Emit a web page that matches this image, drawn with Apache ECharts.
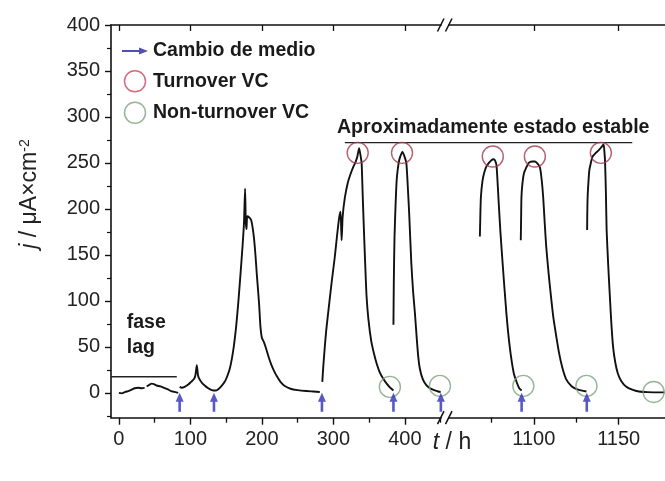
<!DOCTYPE html>
<html><head><meta charset="utf-8">
<script src="https://cdn.jsdelivr.net/npm/echarts@6/dist/echarts.min.js"></script>
<style>html,body{margin:0;padding:0;background:#fff}#c{width:665px;height:481px}</style>
</head><body><div id="c"></div>
<script>
// ---- data (t in h, j in µA·cm^-2) ----
const lagSeg1 = [[0,0],[4,-0.5],[9,1],[13,2],[18,3.5],[22,5],[27,5.5],[32,5],[36,5.5]];
const lagSeg2 = [[39,7],[43,9],[46,10],[49,9.5],[53,8],[58,7],[63,5.5],[68,4],[73,2],[78,1],[83,0]];
const growthSeg = [[85,6.5],[88,5.5],[92,6.5],[97,9],[101,12],[105,15],[107,19],[109,30],[110.5,20],[112,16],[116,11],[120,8],[125,5],[130,3],[135,2.5],[139,4],[144,8],[148,12],[151,17],[155,26],[158,37],[161,52],[164,72],[167,98],[170,128],[173,160],[175,185],[176.5,222],[177.5,186],[178.5,178],[179.5,192],[182,191],[185,188],[187,180],[189,168],[191,150],[193,128],[196,98],[198,72],[200,60],[203,55],[206,48],[209,40],[213,31],[217,24],[221,18],[226,12],[232,7.5],[240,4.5],[250,3],[262,2],[272,1.5],[281,1]];
const cycle1 = [[284.5,12],[286,30],[288,50],[290,68],[294,96],[298,123],[302,148],[305,170],[308,190],[310,197],[311.5,166],[313,192],[316,212],[320,228],[324,238],[328,246],[331,251],[333.5,257],[336,266],[338,258],[339.5,250],[341,215],[342.7,177],[344.5,140],[346.4,105],[349,80],[353,56],[357,42],[360.5,32],[365,22],[370,15],[374.5,10],[379,6],[384,2.5]];
const cycle2 = [[384,74],[384.5,120],[385.5,170],[387,205],[388.5,231],[390,243],[392,253],[394,258],[396.5,262],[399,258],[402,250],[404,225],[406,195],[409,141],[411.5,110],[414,87],[416.5,60],[418.6,40],[421,26],[425,15],[430,8.5],[435,5],[441,3],[446.6,1.5],[450,1]];
const cycle3 = [[1068.2,170],[1068.5,195],[1068.8,213],[1069.7,230],[1070.7,239],[1072,246],[1073.5,250],[1075,253],[1076.3,254],[1077.3,252],[1078,247],[1078.6,230],[1079.1,213],[1080.3,175],[1081.6,141],[1083.8,87],[1085.8,50],[1088.2,21],[1090,11],[1091.4,5],[1092.8,2.5]];
const cycle4 = [[1092.3,166],[1092.5,190],[1092.7,213],[1093.3,228],[1094.2,239],[1095.5,245],[1097,250],[1099,251.5],[1100.7,251.5],[1102.3,249],[1103.6,245],[1104.6,232],[1105.5,213],[1106.4,185],[1107.3,159],[1108.7,130],[1110.1,105],[1111.5,82],[1113,64],[1114.8,44],[1116.7,28],[1119,15],[1122.4,7],[1126,3.5],[1131,1.5]];
const cycle5 = [[1131.4,177],[1131.5,195],[1131.7,213],[1132.2,230],[1132.7,242],[1133.6,250],[1134.6,257],[1136.5,261],[1138.3,264],[1139.7,267],[1141.1,270],[1141.6,262],[1142,250],[1142.5,215],[1142.9,177],[1143.8,140],[1144.8,105],[1145.7,75],[1146.7,50],[1148,33],[1149.5,21],[1151.5,13],[1154.3,7],[1158,3.5],[1161.9,1.5],[1167,0.8],[1177,0.5]];

const mediumChangeLeft = [85, 133, 284, 384, 450.3];
const mediumChangeRight = [1092.8, 1131.2];
const turnoverLeft = [[334,261],[396,261]];
const turnoverRight = [[1075.8,257],[1100.6,257],[1139.5,261]];
const nonTurnoverLeft = [[379,6.5],[449,7.6]];
const nonTurnoverRight = [[1093.8,7.6],[1131,7.6],[1170.6,1]];

const lagLevel = 17.5, lagStart = -11, lagEnd = 81;
const steadyLevel = 272, steadyStart = 316, steadyEnd = 1158;

const xTicksLeft = [0,100,200,300,400];
const xMinorLeft = [50,150,250,350,450];
const xTicksRight = [1100,1150];
const xMinorRight = [1075,1125];
const yTicks = [0,50,100,150,200,250,300,350,400];
const yMinor = [-25,25,75,125,175,225,275,325,375];

// ---- layout / style ----
const FONT = 'Liberation Sans, Arial, sans-serif';
const INK = '#111';
const TURN = '#a03a4e';
const NONTURN = '#7ea27e';
const ARROW = '#2e2eb8';
const arrowUp = 'path://M4,0 L8,9 L5.3,9 L5.3,19 L2.7,19 L2.7,9 L0,9 Z';
const arrowRight = 'path://M0,3 L19,3 L19,0 L29,4 L19,8 L19,5 L0,5 Z';

const gTop = 25, gH = 392.7;
const L = {left:111, width:330, min:-11, max:450.5};
const R = {left:449, width:226, min:1050, max:1177.3};
const plain = v => String(v);

function xAxes(g, cfg, major, minor) {
  const line = {show:true, onZero:false, lineStyle:{color:INK, width:1.6}};
  return [
    {gridIndex:g, type:'value', min:cfg.min, max:cfg.max, position:'bottom',
     axisLine:line, splitLine:{show:false},
     axisTick:{show:true, customValues:major, length:7, lineStyle:{color:INK, width:1.4}},
     axisLabel:{customValues:major, formatter:plain, fontSize:20, color:'#222', fontFamily:FONT, margin:12}},
    {gridIndex:g, type:'value', min:cfg.min, max:cfg.max, position:'bottom',
     axisLine:{show:false, onZero:false}, splitLine:{show:false}, axisLabel:{show:false},
     axisTick:{show:true, customValues:minor, length:5, lineStyle:{color:INK, width:1.3}}},
    {gridIndex:g, type:'value', min:cfg.min, max:cfg.max, position:'top',
     axisLine:line, splitLine:{show:false}, axisLabel:{show:false},
     axisTick:{show:true, inside:true, customValues:major, length:6, lineStyle:{color:INK, width:1.3}}}
  ];
}

const xAxis = xAxes(0, L, xTicksLeft, xMinorLeft).concat(xAxes(1, R, xTicksRight, xMinorRight));
const yAxis = [
  {gridIndex:0, type:'value', min:-27, max:400, position:'left',
   axisLine:{show:true, onZero:false, lineStyle:{color:INK, width:1.6}}, splitLine:{show:false},
   axisTick:{show:true, customValues:yTicks, length:6, lineStyle:{color:INK, width:1.4}},
   axisLabel:{customValues:yTicks, formatter:plain, fontSize:20, color:'#222', fontFamily:FONT, margin:11}},
  {gridIndex:0, type:'value', min:-27, max:400, position:'left',
   axisLine:{show:false, onZero:false}, splitLine:{show:false}, axisLabel:{show:false},
   axisTick:{show:true, customValues:yMinor, length:4, lineStyle:{color:INK, width:1.2}}},
  {gridIndex:1, type:'value', min:-27, max:400, show:false, axisLine:{onZero:false}}
];

function curve(data, right) {
  return {type:'line', xAxisIndex: right ? 3 : 0, yAxisIndex: right ? 2 : 0, data:data,
    showSymbol:false, smooth:0.2, silent:true, z:3,
    lineStyle:{color:INK, width:1.9}};
}
function guide(data, right) {
  return {type:'line', xAxisIndex: right ? 3 : 0, yAxisIndex: right ? 2 : 0, data:data,
    showSymbol:false, silent:true, clip:false, z:2, lineStyle:{color:'#222', width:1.3}};
}
function arrows(ts, right) {
  return {type:'scatter', name:'Cambio de medio', xAxisIndex: right ? 3 : 0, yAxisIndex: right ? 2 : 0,
    data: ts.map(t => [t, 0]), symbol: arrowUp, symbolSize:[8,19], symbolOffset:[0,'50%'],
    itemStyle:{color:ARROW}, clip:false, z:6, silent:true};
}
function circles(name, data, color, right) {
  return {type:'scatter', name:name, xAxisIndex: right ? 3 : 0, yAxisIndex: right ? 2 : 0,
    data:data, symbol:'circle', symbolSize:21, clip:false, z:5, silent:true,
    itemStyle:{color:'rgba(0,0,0,0)', borderColor:color, borderWidth:1.4}};
}

const series = [
  curve(lagSeg1), curve(lagSeg2), curve(growthSeg), curve(cycle1), curve(cycle2),
  curve(cycle3, true), curve(cycle4, true), curve(cycle5, true),
  guide([[lagStart, lagLevel],[lagEnd, lagLevel]], false),
  arrows(mediumChangeLeft), arrows(mediumChangeRight, true),
  circles('Turnover VC', turnoverLeft, TURN), circles('Turnover VC', turnoverRight, TURN, true),
  circles('Non-turnover VC', nonTurnoverLeft, NONTURN), circles('Non-turnover VC', nonTurnoverRight, NONTURN, true)
];

const option = {
  animation:false,
  backgroundColor:'#fff',
  grid:[
    {left:L.left, top:gTop, width:L.width, height:gH},
    {left:R.left, top:gTop, width:R.width, height:gH}
  ],
  xAxis: xAxis, yAxis: yAxis, series: series,
  legend:{
    orient:'vertical', left:117, top:36, itemWidth:26, itemHeight:21, itemGap:9,
    selectedMode:false, symbolKeepAspect:true,
    textStyle:{fontSize:19.5, fontWeight:'bold', color:'#1a1a1a', fontFamily:FONT},
    data:[
      {name:'Cambio de medio', icon:arrowRight, itemStyle:{color:'#24249a'}},
      {name:'Turnover VC', icon:'circle', itemStyle:{color:'rgba(0,0,0,0)', borderColor:'#c8485c', borderWidth:1.5}},
      {name:'Non-turnover VC', icon:'circle', itemStyle:{color:'rgba(0,0,0,0)', borderColor:NONTURN, borderWidth:1.5}}
    ]
  }
};

const chart = echarts.init(document.getElementById('c'), null, {renderer:'canvas'});
chart.setOption(option);

// annotations positioned through the axes
const pL = (t, j) => chart.convertToPixel({xAxisIndex:0, yAxisIndex:0}, [t, j]);
const pR = (t, j) => chart.convertToPixel({xAxisIndex:3, yAxisIndex:2}, [t, j]);
const faseP = pL(11, 63);
const steadyP = pL(305, 288);
const s0 = pL(steadyStart, steadyLevel), s1 = pR(steadyEnd, steadyLevel);
const bottomY = gTop + gH, topY = gTop;
const breakX = (L.left + L.width + R.left) / 2;
function slashes(y) {
  return [
    {type:'line', shape:{x1:breakX-7.5, y1:y+6.5, x2:breakX-1, y2:y-6.5}, style:{stroke:INK, lineWidth:1.5}},
    {type:'line', shape:{x1:breakX+0.5, y1:y+6.5, x2:breakX+7, y2:y-6.5}, style:{stroke:INK, lineWidth:1.5}}
  ];
}
chart.setOption({
  graphic:[
    {type:'line', shape:{x1:s0[0], y1:s0[1], x2:s1[0], y2:s1[1]}, style:{stroke:'#222', lineWidth:1.3}},
    {type:'text', x:faseP[0], y:faseP[1], style:{text:'fase\nlag', fontSize:19.5, fontWeight:'bold', fontFamily:FONT, fill:'#1a1a1a', lineHeight:25, verticalAlign:'middle', align:'left'}},
    {type:'text', x:steadyP[0], y:steadyP[1], style:{text:'Aproximadamente estado estable', fontSize:19.6, fontWeight:'bold', fontFamily:FONT, fill:'#1a1a1a', verticalAlign:'middle', align:'left'}},
    {type:'text', x:30, y:194, rotation:Math.PI/2,
     style:{text:'{i|j} / μA×cm{s|-2}', fontSize:23, fontFamily:FONT, fill:'#222', align:'center', verticalAlign:'middle',
       rich:{i:{fontStyle:'italic', fontSize:23, fontFamily:FONT, fill:'#222'}, s:{fontSize:14, fontFamily:FONT, verticalAlign:'top', lineHeight:14, fill:'#222'}}}},
    {type:'text', x:452, y:443,
     style:{text:'{i|t} / h', fontSize:23, fontFamily:FONT, fill:'#222', align:'center', verticalAlign:'middle',
       rich:{i:{fontStyle:'italic', fontSize:23, fontFamily:FONT, fill:'#222'}}}}
  ].concat(slashes(bottomY), slashes(topY))
});
</script>
</body></html>
